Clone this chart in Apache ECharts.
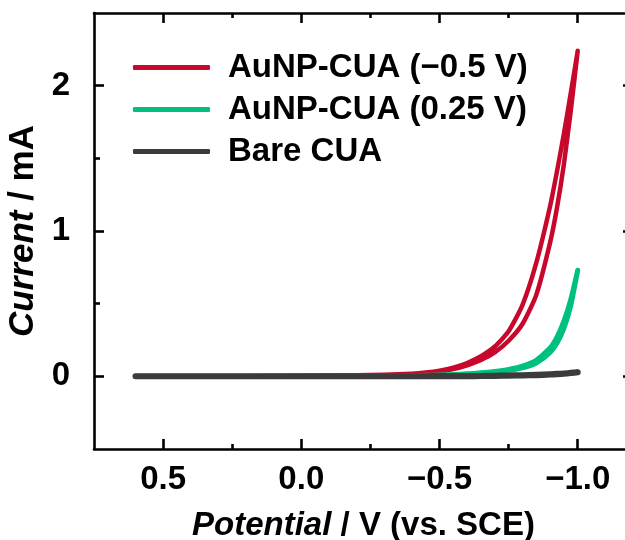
<!DOCTYPE html>
<html>
<head>
<meta charset="utf-8">
<script src="https://cdn.jsdelivr.net/npm/echarts@6/dist/echarts.min.js"></script>
<style>
  html, body { margin: 0; padding: 0; background: #ffffff; overflow: hidden; }
  #chart { width: 625px; height: 540px; }
</style>
</head>
<body>
<div id="chart"></div>
<script>
// ---- Data (potential in V vs. SCE, current in mA) ----
const seriesNames = ['AuNP-CUA (\u22120.5 V)', 'AuNP-CUA (0.25 V)', 'Bare CUA'];

const scanForward = [0.6, 0.4, 0.2, 0.0, -0.2, -0.3, -0.4, -0.45, -0.5, -0.55, -0.6, -0.65, -0.7, -0.75, -0.8, -0.85, -0.9, -0.925, -0.95, -0.975, -1.0];
const scanReverse = [-1.0, -0.975, -0.95, -0.925, -0.9, -0.85, -0.8, -0.75, -0.7, -0.65, -0.6, -0.55, -0.5, -0.45, -0.4, -0.3, -0.2, 0.0, 0.2, 0.4, 0.6];

const redForward   = [0, 0, 0.001, 0.003, 0.006, 0.009, 0.015, 0.022, 0.033, 0.05, 0.076, 0.112, 0.165, 0.245, 0.36, 0.56, 0.92, 1.16, 1.46, 1.83, 2.24];
const redReverse   = [2.24, 1.95, 1.67, 1.41, 1.17, 0.78, 0.49, 0.31, 0.205, 0.138, 0.092, 0.06, 0.039, 0.026, 0.018, 0.011, 0.007, 0.004, 0.001, 0, 0];

const greenForward = [0, 0, 0, 0.001, 0.002, 0.003, 0.004, 0.006, 0.008, 0.011, 0.015, 0.021, 0.029, 0.04, 0.058, 0.092, 0.165, 0.23, 0.33, 0.49, 0.73];
const greenReverse = [0.73, 0.53, 0.38, 0.27, 0.195, 0.11, 0.07, 0.048, 0.034, 0.024, 0.017, 0.012, 0.009, 0.007, 0.005, 0.003, 0.002, 0.001, 0, 0, 0];

const bareForward  = [0, 0, 0, 0, 0, 0.001, 0.001, 0.001, 0.002, 0.002, 0.003, 0.003, 0.004, 0.006, 0.008, 0.011, 0.015, 0.017, 0.02, 0.024, 0.028];
const bareReverse  = [0.028, 0.022, 0.017, 0.014, 0.012, 0.008, 0.006, 0.004, 0.003, 0.002, 0.001, 0.001, 0, 0, 0, 0, 0, 0, 0, 0, 0];

const xMajorTicks = [0.5, 0.0, -0.5, -1.0];
const xMinorTicks = [0.25, -0.25, -0.75];
const yMajorTicks = [0, 1, 2];
const yMinorTicks = [0.5, 1.5];

const xRange = { min: -1.2, max: 0.75 };
const yRange = { min: -0.5, max: 2.5 };

const colors = ['#c8072c', '#00c07e', '#3b3b3b'];
const widths = [4.5, 5, 6];

// ---- Build ----
function zip(xs, ys) { return xs.map((x, i) => [x, ys[i]]); }
function loop(fx, fy, rx, ry) { return zip(fx, fy).concat(zip(rx, ry)); }

const FONT = '"Liberation Sans", Arial, Helvetica, sans-serif';
const AXIS_W = 2.6;

function fmtX(v) {
  return (v < 0 ? '\u2212' : '') + Math.abs(v).toFixed(1);
}

function xAxisDef(position, ticks, len, showLine, showLabel, extra) {
  return Object.assign({
    type: 'value', gridIndex: 0, position: position, inverse: true,
    min: xRange.min, max: xRange.max,
    axisLine: { show: showLine, onZero: false, lineStyle: { color: '#000', width: AXIS_W } },
    axisTick: { show: true, inside: true, length: len, customValues: ticks, lineStyle: { color: '#000', width: AXIS_W } },
    axisLabel: showLabel ? {
      show: true, customValues: ticks, formatter: fmtX, margin: 14,
      color: '#000', fontSize: 33, fontWeight: 'bold', fontFamily: FONT
    } : { show: false },
    splitLine: { show: false }
  }, extra || {});
}

function yAxisDef(position, ticks, len, showLine, showLabel, extra) {
  return Object.assign({
    type: 'value', gridIndex: 0, position: position,
    min: yRange.min, max: yRange.max,
    axisLine: { show: showLine, onZero: false, lineStyle: { color: '#000', width: AXIS_W } },
    axisTick: { show: true, inside: true, length: len, customValues: ticks, lineStyle: { color: '#000', width: AXIS_W } },
    axisLabel: showLabel ? {
      show: true, customValues: ticks, formatter: v => String(v), margin: 24,
      color: '#000', fontSize: 33, fontWeight: 'bold', fontFamily: FONT
    } : { show: false },
    splitLine: { show: false }
  }, extra || {});
}

function nameStyle(size) {
  return {
    color: '#000', fontSize: size, fontWeight: 'bold', fontFamily: FONT,
    rich: { i: { fontStyle: 'italic', fontWeight: 'bold', fontSize: size, fontFamily: FONT, color: '#000' } }
  };
}

const chart = echarts.init(document.getElementById('chart'), null, { renderer: 'canvas' });

const seriesData = [
  loop(scanForward, redForward, scanReverse, redReverse),
  loop(scanForward, greenForward, scanReverse, greenReverse),
  loop(scanForward, bareForward, scanReverse, bareReverse)
];

chart.setOption({
  animation: false,
  backgroundColor: '#ffffff',
  grid: { left: 94, top: 13, width: 539, bottom: 91, containLabel: false, outerBoundsMode: 'none' },
  legend: {
    data: seriesNames,
    orient: 'vertical',
    left: 133, top: 51,
    padding: 0,
    icon: 'roundRect',
    itemWidth: 77, itemHeight: 5, itemGap: 9,
    textStyle: { color: '#000', fontSize: 33, fontWeight: 'bold', fontFamily: FONT, lineHeight: 32, padding: [0, 0, 0, 13] }
  },
  xAxis: [
    xAxisDef('bottom', xMajorTicks, 10, true, true, {
      name: '{i|Potential} / V (vs. SCE)', nameLocation: 'middle', nameGap: 60, nameTextStyle: nameStyle(33)
    }),
    xAxisDef('bottom', xMinorTicks, 5, false, false),
    xAxisDef('top', xMajorTicks, 10, true, false),
    xAxisDef('top', xMinorTicks, 5, false, false)
  ],
  yAxis: [
    yAxisDef('left', yMajorTicks, 10, true, true, {
      name: '{i|Current} / mA', nameLocation: 'middle', nameRotate: 90, nameGap: 51, nameTextStyle: nameStyle(35)
    }),
    yAxisDef('left', yMinorTicks, 6, false, false),
    yAxisDef('right', yMajorTicks, 10, true, false),
    yAxisDef('right', yMinorTicks, 6, false, false)
  ],
  series: seriesNames.map((name, i) => ({
    name: name,
    type: 'line',
    xAxisIndex: 0, yAxisIndex: 0,
    data: seriesData[i],
    showSymbol: false,
    smooth: 0.2,
    color: colors[i],
    lineStyle: { color: colors[i], width: widths[i], cap: 'round', join: 'round' },
    z: 2
  }))
});
</script>
</body>
</html>
